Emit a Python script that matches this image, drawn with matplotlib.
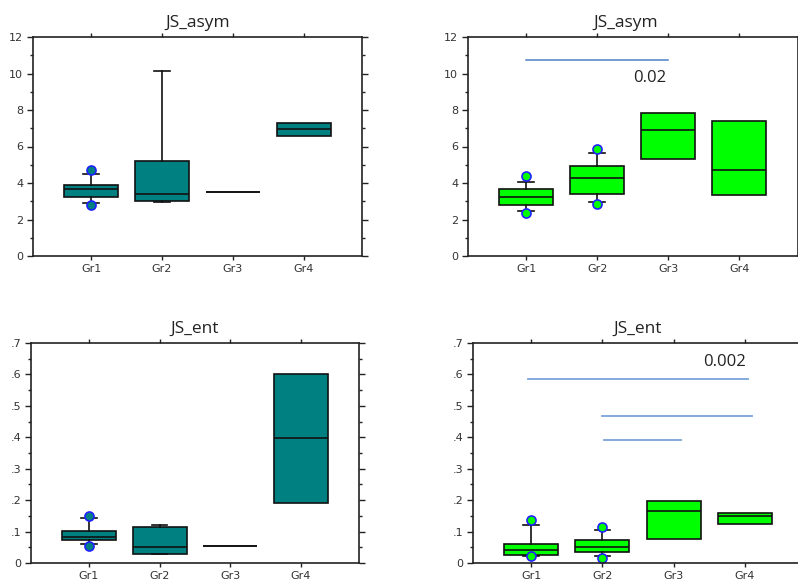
import matplotlib
matplotlib.use("Agg")
import matplotlib.pyplot as plt
from matplotlib.ticker import MultipleLocator

groups = ['Gr1', 'Gr2', 'Gr3', 'Gr4']

# JS_asym, left panel (teal)
asymL_q1 = [3.25, 3.01, 3.52, 6.57]
asymL_med = [3.65, 3.39, 3.52, 6.97]
asymL_q3 = [3.88, 5.20, 3.52, 7.31]
asymL_lo = [2.88, 2.95, 3.52, 6.57]
asymL_hi = [4.50, 10.12, 3.52, 7.31]
asymL_fl = [[4.72, 2.79], [], [], []]

# JS_asym, right panel (green)
asymR_q1 = [2.81, 3.37, 5.31, 3.32]
asymR_med = [3.21, 4.25, 6.88, 4.69]
asymR_q3 = [3.65, 4.94, 7.86, 7.37]
asymR_lo = [2.46, 2.95, 5.31, 3.32]
asymR_hi = [4.07, 5.64, 7.86, 7.37]
asymR_fl = [[4.36, 2.33], [5.85, 2.85], [], []]

# JS_ent, left panel (teal)
entL_q1 = [0.073, 0.030, 0.055, 0.190]
entL_med = [0.083, 0.052, 0.055, 0.399]
entL_q3 = [0.103, 0.114, 0.055, 0.601]
entL_lo = [0.061, 0.030, 0.055, 0.190]
entL_hi = [0.143, 0.121, 0.055, 0.601]
entL_fl = [[0.151, 0.053], [], [], []]

# JS_ent, right panel (green)
entR_q1 = [0.0255, 0.036, 0.077, 0.1245]
entR_med = [0.0426, 0.052, 0.165, 0.148]
entR_q3 = [0.0596, 0.0745, 0.197, 0.1585]
entR_lo = [0.022, 0.022, 0.077, 0.1245]
entR_hi = [0.121, 0.104, 0.197, 0.1585]
entR_fl = [[0.137, 0.021], [0.115, 0.017], [], []]

# significance bars: (x_start, x_end, y)
asym_sig = [(1.0, 3.0, 10.74)]
asym_sig_text = ('0.02', 2.97, 9.78)
ent_sig = [(0.96, 4.04, 0.584), (2.0, 4.1, 0.469), (2.02, 3.1, 0.390)]
ent_sig_text = ('0.002', 4.01, 0.638)

asym_ticks = [0, 2, 4, 6, 8, 10, 12]
asym_ticklabels = ['0', '2', '4', '6', '8', '10', '12']
ent_ticks = [0, 0.1, 0.2, 0.3, 0.4, 0.5, 0.6, 0.7]
ent_ticklabels = ['0', '.1', '.2', '.3', '.4', '.5', '.6', '.7']

W, H = 798, 585
fig = plt.figure(figsize=(W / 100, H / 100), dpi=100)


def axes_px(left, right, top, bottom):
    return fig.add_axes([left / W, 1 - bottom / H, (right - left) / W, (bottom - top) / H])


TEAL = '#008080'
GREEN = '#00ff00'
TXT = '#333333'


def draw(ax, q1, med, q3, lo, hi, fl, color, title, ticks, ticklabels, ylim, minor, title_x=0.5):
    stats = []
    caps = []
    for i in range(len(groups)):
        stats.append(dict(q1=q1[i], med=med[i], q3=q3[i], whislo=lo[i], whishi=hi[i],
                          fliers=fl[i], label=groups[i]))
        caps.append(0.22 if (lo[i] < q1[i] or hi[i] > q3[i]) else 0.0)
    ax.bxp(stats, positions=[1, 2, 3, 4], widths=0.76, capwidths=caps,
           patch_artist=True, showfliers=True,
           boxprops=dict(facecolor=color, edgecolor='#111111', linewidth=1.2),
           medianprops=dict(color='#111111', linewidth=1.2),
           whiskerprops=dict(color='#111111', linewidth=1.2),
           capprops=dict(color='#111111', linewidth=1.2),
           flierprops=dict(marker='o', markerfacecolor=color, markeredgecolor='#2020ff',
                           markersize=6.5, markeredgewidth=1.2))
    ax.set_xlim(0.18, 4.82)
    ax.set_ylim(*ylim)
    ax.set_yticks(ticks)
    ax.set_yticklabels(ticklabels)
    ax.yaxis.set_minor_locator(MultipleLocator(minor))
    ax.set_xticks([1, 2, 3, 4])
    ax.set_xticklabels(groups)
    ax.tick_params(which='both', direction='out', top=True, right=True,
                   labelsize=8, labelcolor=TXT, color='#222222', width=1)
    ax.tick_params(which='major', length=4, pad=3)
    ax.tick_params(which='minor', length=2)
    ax.tick_params(axis='x', which='major', length=3)
    ax.tick_params(axis='x', which='minor', bottom=False, top=False)
    for s in ax.spines.values():
        s.set_color('#222222')
        s.set_linewidth(1.2)
    ax.set_title(title, fontsize=12.5, family='Open Sans', color='#222222', pad=7, x=title_x)


ax1 = axes_px(33, 362, 37, 256)
draw(ax1, asymL_q1, asymL_med, asymL_q3, asymL_lo, asymL_hi, asymL_fl, TEAL,
     'JS_asym', asym_ticks, asym_ticklabels, (0, 12), 1)

ax2 = axes_px(468, 797.5, 37, 256)
draw(ax2, asymR_q1, asymR_med, asymR_q3, asymR_lo, asymR_hi, asymR_fl, GREEN,
     'JS_asym', asym_ticks, asym_ticklabels, (0, 12), 1, title_x=0.48)
for x0, x1, y in asym_sig:
    ax2.plot([x0, x1], [y, y], color='#4f81c4', linewidth=1.1)
ax2.text(asym_sig_text[1], asym_sig_text[2], asym_sig_text[0], ha='right', va='center',
         fontsize=12, family='Open Sans', color='#222222')

ax3 = axes_px(31, 359, 343, 563)
draw(ax3, entL_q1, entL_med, entL_q3, entL_lo, entL_hi, entL_fl, TEAL,
     'JS_ent', ent_ticks, ent_ticklabels, (0, 0.7), 0.05)

ax4 = axes_px(473, 803, 343, 563)
draw(ax4, entR_q1, entR_med, entR_q3, entR_lo, entR_hi, entR_fl, GREEN,
     'JS_ent', ent_ticks, ent_ticklabels, (0, 0.7), 0.05)
for x0, x1, y in ent_sig:
    ax4.plot([x0, x1], [y, y], color='#7ba3d8', linewidth=1.3)
ax4.text(ent_sig_text[1], ent_sig_text[2], ent_sig_text[0], ha='right', va='center',
         fontsize=12, family='Open Sans', color='#222222')

fig.savefig('out.png', dpi=100)
